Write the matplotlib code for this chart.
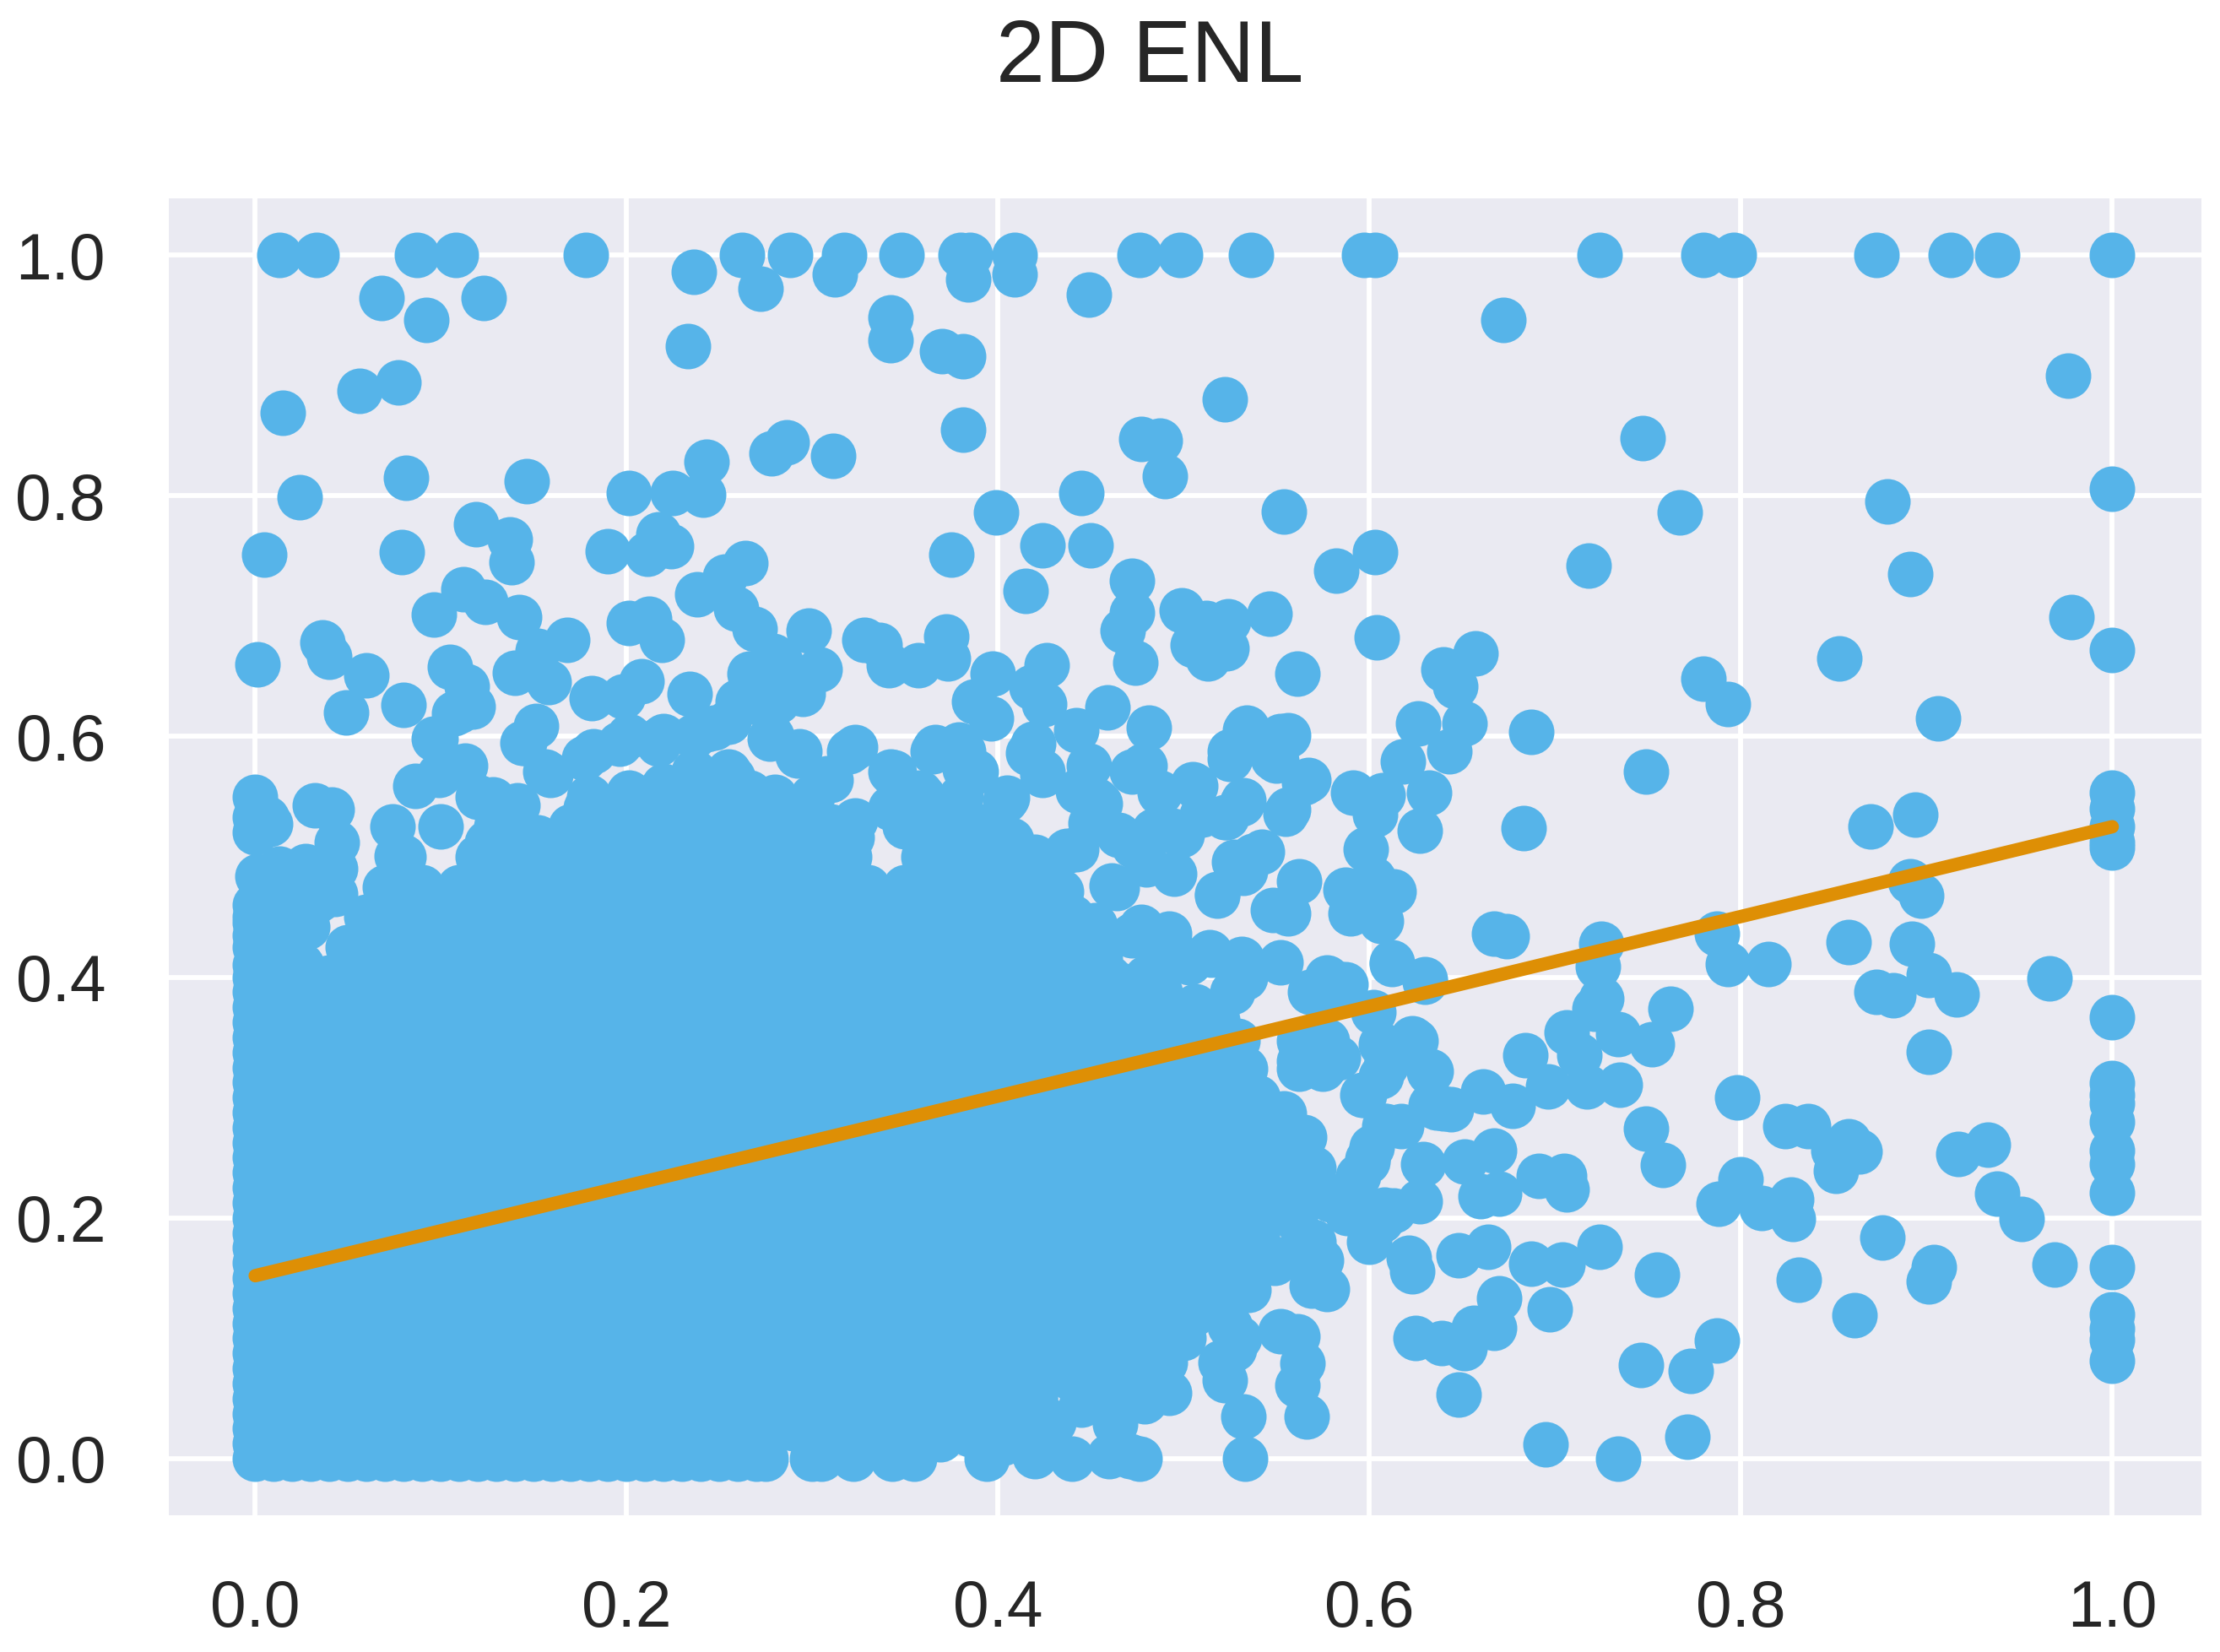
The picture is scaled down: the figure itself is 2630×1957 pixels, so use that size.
import matplotlib
matplotlib.use("Agg")
import matplotlib.pyplot as plt

title = "2D ENL"
tick_values = [0.0, 0.2, 0.4, 0.6, 0.8, 1.0]
tick_labels = ["0.0", "0.2", "0.4", "0.6", "0.8", "1.0"]
fit_x = [0.0, 1.0]
fit_y = [0.152, 0.525]

top_row_x = [.013, .033, .087, .108, .178, .262, .288, .317, .348, .380, .385, .409, .476, .498, .536, .597, .603,
             .724, .780, .796, .873, .913, .938, 1.0]
right_col_y = [.806, .672, .553, .54, .525, .512, .508, .367, .312, .302, .295, .28, .256, .245, .221, .159,
               .12, .108, .099, .081]
bottom_row_x = [.01, .03, .05, .07, .09, .11, .13, .15, .17, .19, .21, .23, .25, .27]
left_col_y = [.0125, .0375, .0625, .0875, .1125, .1375, .1625, .1875, .2125, .2375, .2625, .2875, .3125, .3375,
              .3625, .3875, .41, .445]

upper_points = [
    (.068,.964),(.092,.946),(.123,.964),(.236,.986),(.272,.972),(.312,.984),(.342,.948),(.342,.929),(.233,.924),
    (.370,.920),(.381,.916),(.384,.980),(.409,.984),(.449,.967),(.672,.946),(.976,.900),(.015,.869),(.056,.887),
    (.077,.894),(.522,.880),(.381,.855),(.477,.847),(.487,.846),(.747,.848),(.081,.815),(.024,.799),(.146,.812),
    (.243,.828),(.286,.844),(.278,.835),(.311,.833),(.490,.816),(.201,.802),(.225,.802),(.241,.801),(.445,.802),
    (.879,.795),(.399,.786),(.554,.787),(.767,.786),(.005,.751),(.079,.753),(.119,.776),(.137,.764),(.138,.745),
    (.190,.754),(.211,.752),(.217,.768),(.224,.758),(.264,.744),(.253,.733),(.375,.751),(.424,.759),(.450,.759),
    (.603,.753),(.582,.738),(.718,.742),(.891,.735),(.415,.721),(.472,.729),(.112,.722),(.124,.712),(.096,.701),
    (.142,.699),(.238,.718),(.259,.706),(.269,.689),(.201,.694),(.212,.698),(.219,.680),(.168,.680),(.152,.671),
    (.036,.678),(.040,.666),(.001,.660),(.060,.651),(.080,.626),(.049,.620),(.105,.658),(.114,.642),(.140,.653),
    (.158,.645),(.110,.621),(.097,.598),(.144,.595),(.151,.609),(.181,.632),(.198,.633),(.208,.646),(.234,.635),
    (.298,.688),(.328,.680),(.336,.676),(.341,.659),(.357,.659),(.372,.683),(.373,.665),(.397,.652),(.426,.659),
    (.266,.652),(.279,.667),(.304,.656),(.295,.635),(.260,.629),(.387,.629),(.396,.615),(.418,.641),(.425,.627),
    (.442,.605),(.459,.624),(.467,.688),(.472,.703),(.474,.661),(.481,.607),(.499,.705),(.512,.694),(.524,.696),
    (.546,.702),(.505,.676),(.513,.665),(.523,.673),(.561,.652),(.604,.682),(.978,.699),(.853,.665),(.780,.648),
    (.793,.627),(.906,.615),(.657,.669),(.640,.656),(.646,.642),(.651,.611),(.643,.588),(.626,.611),(.687,.604),
    (.618,.579),(.632,.553),(.627,.522),(.591,.553),(.607,.551),(.603,.535),(.749,.571),(.683,.524),(.870,.525),
    (.894,.535),
]

right_points = [
    (.891,.480),(.897,.468),(.858,.429),(.892,.428),(.787,.436),(.793,.411),(.815,.411),(.966,.399),(.901,.402),
    (.916,.386),(.873,.388),(.882,.385),(.901,.338),(.725,.428),(.723,.409),(.667,.436),(.674,.434),(.630,.396),
    (.612,.412),(.725,.382),(.721,.374),(.706,.354),(.734,.353),(.684,.335),(.713,.335),(.696,.309),(.717,.309),
    (.735,.311),(.752,.344),(.762,.374),(.661,.305),(.633,.294),(.640,.291),(.677,.293),(.632,.321),(.625,.347),
    (.749,.274),(.758,.244),(.798,.300),(.824,.276),(.836,.276),(.850,.256),(.858,.264),(.864,.255),(.851,.239),
    (.917,.253),(.933,.261),(.938,.220),(.951,.199),(.800,.232),(.788,.212),(.811,.208),(.827,.215),(.828,.199),
    (.876,.184),(.904,.159),(.901,.147),(.969,.161),(.831,.149),(.861,.119),(.705,.235),(.706,.224),(.691,.235),
    (.724,.176),(.687,.162),(.704,.161),(.755,.153),(.697,.124),(.787,.098),(.746,.078),(.773,.073),(.695,.012),
    (.771,.018),(.734,.0),(.651,.247),(.667,.256),(.660,.218),(.670,.220),(.629,.245),(.627,.214),(.625,.100),
    (.639,.096),(.651,.092),(.656,.109),(.667,.109),(.670,.133),(.648,.169),(.664,.176),(.621,.167),(.623,.156),
    (.648,.053),
]

mid_points = [
    (.552,.106),(.561,.102),(.564,.079),(.561,.061),(.566,.035),(.533,.0),(.532,.035),(.569,.144),(.577,.141),
    (.574,.165),(.570,.180),(.579,.215),(.594,.212),(.608,.207),(.600,.180),(.613,.206),(.599,.247),(.594,.235),
    (.601,.259),(.617,.276),(.609,.276),(.596,.302),(.606,.318),(.602,.371),(.617,.341),(.606,.344),(.583,.333),
    (.575,.324),(.562,.324),(.562,.347),(.577,.347),(.568,.388),(.577,.400),(.587,.394),(.552,.412),(.587,.473),
    (.598,.506),(.602,.482),(.590,.453),(.606,.447),(.613,.471),(.594,.459),(.562,.480),(.556,.453),(.548,.456),
    (.518,.468),(.533,.488),(.542,.504),(.527,.496),(.510,.535),(.565,.562),(.556,.539),(.552,.600),(.548,.582),
    (.533,.605),(.525,.588),(.531,.544),(.522,.533),(.506,.559),(.479,.576),(.505,.560),(.523,.533),(.532,.547),
    (.555,.536),(.525,.581),(.534,.607),(.556,.601),(.550,.580),(.567,.564),(.612,.411),(.630,.398),(.578,.388),
    (.585,.394),(.416,.586),(.424,.568),(.443,.555),(.455,.544),(.450,.528),(.484,.522),(.494,.522),(.473,.509),
    (.437,.505),(.405,.549),(.407,.514),(.452,.443),(.477,.442),(.492,.436),(.494,.423),(.515,.419),(.531,.415),
    (.455,.415),(.495,.486),(.464,.474),(.537,.501),(.518,.469),(.532,.487),(.562,.330),(.576,.327),(.565,.267),
    (.554,.287),(.533,.292),(.570,.241),(.580,.218),(.567,.217),(.606,.198),(.588,.204),(.549,.163),(.510,.155),
    (.523,.129),(.520,.080),(.522,.065),(.527,.091),(.492,.055),(.476,.0),(.460,.002),(.440,.0),(.420,.002),
    (.394,.0),(.355,.0),(.343,.0),(.322,.0),(.300,.0),(.305,.0),(.403,.013),(.463,.029),(.471,.002),(.455,.053),
    (.479,.048),(.486,.102),(.473,.102),(.451,.096),(.439,.067),(.426,.075),(.390,.048),(.369,.016),
    (.636,.292),(.644,.290),(.633,.322),(.623,.349),(.609,.327),(.608,.276),(.597,.302),(.599,.249),
]

upper_left_edge = [
    (.096,.598),(.107,.619),(.117,.625),(.145,.595),(.086,.559),(.113,.576),(.099,.568),(.128,.548),(.141,.543),
    (.159,.568),(.177,.582),(.196,.594),(.218,.598),(.247,.607),(.277,.598),(.292,.584),(.323,.591),(.310,.564),
    (.344,.570),(.321,.516),(.257,.566),(.074,.525),(.076,.501),(.032,.543),(.041,.539),(.044,.512),(.0,.550),
    (.006,.532),(.0,.533),(.008,.527),(.0,.520),(.001,.484),(.013,.490),(.027,.492),(.043,.490),(.0,.460),
    (.0,.435),(.028,.442),(.043,.469),(.034,.464),(.005,.413),(.018,.378),(.165,.512),(.152,.516),(.125,.512),
    (.366,.591),(.379,.593),(.382,.573),(.321,.525),(.344,.568),
    (.012,.470),(.020,.450),(.012,.420),(.025,.410),(.030,.390),(.015,.400),
]

upper_band = [
    (.182,.588),(.201,.600),(.217,.594),(.236,.600),(.236,.571),(.255,.571),(.266,.553),(.278,.600),(.293,.588),
    (.320,.588),(.308,.565),(.323,.530),(.342,.571),(.365,.588),(.381,.588),(.388,.571),(.358,.553),(.342,.541),
    (.297,.541),(.178,.541),(.156,.571),(.201,.553),(.220,.559),(.272,.647),(.283,.661),(.266,.629),(.281,.629),
    (.243,.606),(.255,.612),(.220,.600),(.419,.594),(.424,.571),(.404,.547),(.449,.576),(.453,.547),(.442,.506),
    (.465,.518),(.472,.571),(.487,.553),(.499,.518),(.478,.576),(.480,.494),(.461,.476),(.426,.494),(.434,.471),
]

right_fill = [
    (.472,.435),(.487,.429),(.503,.412),(.514,.421),(.533,.400),(.526,.388),(.506,.376),(.518,.365),(.529,.347),
    (.533,.324),(.487,.388),(.465,.394),(.500,.280),(.520,.270),(.540,.270),(.555,.260),(.510,.250),(.530,.250),
    (.550,.240),(.520,.220),(.540,.210),(.560,.200),(.500,.200),(.520,.190),(.540,.180),(.560,.170),(.530,.160),
    (.500,.170),(.515,.140),(.535,.140),(.505,.120),(.525,.110),(.530,.100),(.500,.100),(.490,.080),(.475,.080),
    (.460,.060),(.470,.070),(.445,.045),(.420,.050),(.400,.035),(.385,.020),(.410,.020),(.430,.030),
]

core_y = [.0, .025, .05, .075, .1, .125, .15, .175, .2, .225, .25, .275, .3, .325, .35, .375, .4, .425, .45,
          .475, .5, .525, .55]
core_rows = [
    [.0,.02,.04,.06,.08,.10,.12,.14,.16,.18,.20,.22,.24,.26,.275],
    [.0,.01,.03,.05,.07,.09,.11,.13,.15,.17,.19,.21,.23,.25,.27,.29,.31,.33,.35,.37],
    [.0,.02,.04,.06,.08,.10,.12,.14,.16,.18,.20,.22,.24,.26,.28,.30,.32,.34,.36,.38,.40,.42],
    [.0,.01,.03,.05,.07,.09,.11,.13,.15,.17,.19,.21,.23,.25,.27,.29,.31,.33,.35,.37,.39,.41,.43,.45],
    [.0,.02,.04,.06,.08,.10,.12,.14,.16,.18,.20,.22,.24,.26,.28,.30,.32,.34,.36,.38,.40,.42,.44,.46,.48],
    [.0,.01,.03,.05,.07,.09,.11,.13,.15,.17,.19,.21,.23,.25,.27,.29,.31,.33,.35,.37,.39,.41,.43,.45,.47,.49],
    [.0,.02,.04,.06,.08,.10,.12,.14,.16,.18,.20,.22,.24,.26,.28,.30,.32,.34,.36,.38,.40,.42,.44,.46,.48,.50,.52],
    [.0,.01,.03,.05,.07,.09,.11,.13,.15,.17,.19,.21,.23,.25,.27,.29,.31,.33,.35,.37,.39,.41,.43,.45,.47,.49,.51,.53],
    [.0,.02,.04,.06,.08,.10,.12,.14,.16,.18,.20,.22,.24,.26,.28,.30,.32,.34,.36,.38,.40,.42,.44,.46,.48,.50,.52,.54,.56],
    [.0,.01,.03,.05,.07,.09,.11,.13,.15,.17,.19,.21,.23,.25,.27,.29,.31,.33,.35,.37,.39,.41,.43,.45,.47,.49,.51,.53,.55,.57],
    [.0,.02,.04,.06,.08,.10,.12,.14,.16,.18,.20,.22,.24,.26,.28,.30,.32,.34,.36,.38,.40,.42,.44,.46,.48,.50,.52,.54,.56],
    [.0,.01,.03,.05,.07,.09,.11,.13,.15,.17,.19,.21,.23,.25,.27,.29,.31,.33,.35,.37,.39,.41,.43,.45,.47,.49,.51,.53,.55],
    [.0,.02,.04,.06,.08,.10,.12,.14,.16,.18,.20,.22,.24,.26,.28,.30,.32,.34,.36,.38,.40,.42,.44,.46,.48,.50,.52,.54],
    [.0,.01,.03,.05,.07,.09,.11,.13,.15,.17,.19,.21,.23,.25,.27,.29,.31,.33,.35,.37,.39,.41,.43,.45,.47,.49,.51,.53],
    [.0,.02,.04,.06,.08,.10,.12,.14,.16,.18,.20,.22,.24,.26,.28,.30,.32,.34,.36,.38,.40,.42,.44,.46,.48,.50,.52],
    [.0,.03,.05,.07,.09,.11,.13,.15,.17,.19,.21,.23,.25,.27,.29,.31,.33,.35,.37,.39,.41,.43,.45,.47,.49],
    [.0,.04,.06,.08,.10,.12,.14,.16,.18,.20,.22,.24,.26,.28,.30,.32,.34,.36,.38,.40,.42,.44,.46,.48],
    [.0,.05,.07,.09,.11,.13,.15,.17,.19,.21,.23,.25,.27,.29,.31,.33,.35,.37,.39,.41,.43,.45],
    [.0,.06,.08,.10,.12,.14,.16,.18,.20,.22,.24,.26,.28,.30,.32,.34,.36,.38,.40,.42,.44],
    [.07,.09,.11,.13,.15,.17,.19,.21,.23,.25,.27,.29,.31,.33,.35,.37,.39,.41,.43],
    [.08,.12,.14,.16,.18,.20,.22,.24,.26,.28,.30,.32,.36,.38,.40,.42],
    [.10,.13,.17,.19,.21,.23,.25,.27,.29,.31,.35,.37,.39],
    [.12,.18,.20,.22,.24,.26,.28,.30,.36,.38],
]

BLUE = "#56B4E9"
ORANGE = "#DE8F05"

plt.rcParams["font.family"] = ["Liberation Sans", "DejaVu Sans"]
fig = plt.figure(figsize=(2630 / 300, 1957 / 300), dpi=300)
ax = fig.add_axes([200 / 2630, 1 - 1795 / 1957, (2608 - 200) / 2630, (1795 - 235) / 1957])
ax.set_facecolor("#EAEAF2")
for s in ax.spines.values():
    s.set_visible(False)
ax.grid(True, color="white", linewidth=1.4, zorder=1)
ax.set_axisbelow(True)

xs, ys = [], []
for v in top_row_x:
    xs.append(v); ys.append(1.0)
for v in right_col_y:
    xs.append(1.0); ys.append(v)
for v in bottom_row_x:
    xs.append(v); ys.append(0.0)
for v in left_col_y:
    xs.append(0.0); ys.append(v)
for group in (upper_points, right_points, mid_points, upper_left_edge, upper_band, right_fill):
    for px, py in group:
        xs.append(px); ys.append(py)
for yv, row in zip(core_y, core_rows):
    for xv in row:
        xs.append(xv); ys.append(yv)

ax.scatter(xs, ys, s=168, color=BLUE, linewidths=0, zorder=3)
ax.plot(fit_x, fit_y, color=ORANGE, linewidth=3.8, solid_capstyle="round", zorder=4)

ax.set_xlim(-0.0465, 1.048)
ax.set_ylim(-0.047, 1.047)
ax.set_xticks(tick_values)
ax.set_xticklabels(tick_labels)
ax.set_yticks(tick_values)
ax.set_yticklabels(tick_labels)
ax.tick_params(axis="both", length=0, labelsize=18.4, labelcolor="#262626", pad=18)

fig.text(1362 / 2630, 1 - 97 / 1957, title, fontsize=25, color="#262626", ha="center", va="baseline")
fig.savefig("out.png", dpi=300)
